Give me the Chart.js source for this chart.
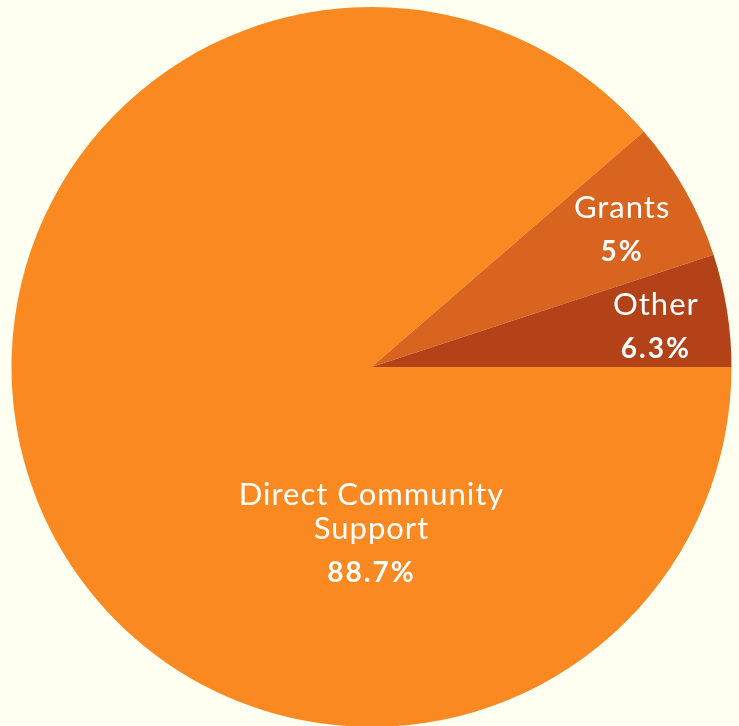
<!DOCTYPE html>
<html>
<head>
<meta charset="utf-8">
<script src="https://cdn.jsdelivr.net/npm/chart.js@4/dist/chart.umd.min.js"></script>
<style>
    html, body { margin: 0; padding: 0; background: #fffff1; overflow: hidden; }
    #wrap { position: relative; width: 739px; height: 727px; }
</style>
</head>
<body>
<div id="wrap"><canvas id="graficoPizza"></canvas></div>
<script>
// Dados do gráfico (ordem horária a partir das 3 horas)
const categorias = [['Direct Community', 'Support'], ['Grants'], ['Other']];
const valores = [88.65, 6.3, 5.05]; // tamanho das fatias
const rotulosPct = ['88.7%', '5%', '6.3%']; // texto mostrado em cada fatia
const cores = ['#fa8921', '#d9641f', '#b44218'];

// Plugin simples para escrever os rótulos dentro das fatias
const rotulosPlugin = {
    id: 'rotulos',
    afterDatasetsDraw(chart) {
        const ctx = chart.ctx;
        const arcs = chart.getDatasetMeta(0).data;
        ctx.save();
        ctx.fillStyle = '#ffffff';
        ctx.textAlign = 'center';
        ctx.textBaseline = 'middle';
        arcs.forEach((arc, i) => {
            const r = arc.outerRadius;
            let x, y;
            if (i === 0) {
                // fatia grande: rótulo logo abaixo do centro
                x = arc.x;
                y = arc.y + r * 0.465;
            } else {
                const meio = (arc.startAngle + arc.endAngle) / 2;
                x = arc.x + Math.cos(meio) * r * 0.8;
                y = arc.y + Math.sin(meio) * r * 0.8 + 5;
            }
            const linhas = categorias[i];
            const alturaLinha = 34;
            const total = linhas.length * alturaLinha + 44;
            let yy = y - total / 2 + alturaLinha / 2;
            ctx.font = '400 31px Lato';
            ctx.letterSpacing = '1px';
            linhas.forEach(l => {
                ctx.fillText(l, x, yy);
                yy += alturaLinha;
            });
            ctx.font = '700 28px Lato';
            ctx.letterSpacing = '2px';
            ctx.fillText(rotulosPct[i], x, yy + 10);
        });
        ctx.restore();
    }
};

const configPizza = {
    type: 'pie',
    data: {
        labels: categorias.map(c => c.join(' ')),
        datasets: [{
            data: valores,
            backgroundColor: cores,
            borderWidth: 0,
        }]
    },
    options: {
        responsive: true,
        maintainAspectRatio: false,
        animation: false,
        rotation: 90,
        layout: { padding: { top: 7, bottom: 0, left: 4, right: 0 } },
        plugins: {
            legend: { display: false },
            tooltip: { enabled: false }
        }
    },
    plugins: [rotulosPlugin]
};

const ctxPizza = document.getElementById('graficoPizza').getContext('2d');
new Chart(ctxPizza, configPizza);
</script>
</body>
</html>
